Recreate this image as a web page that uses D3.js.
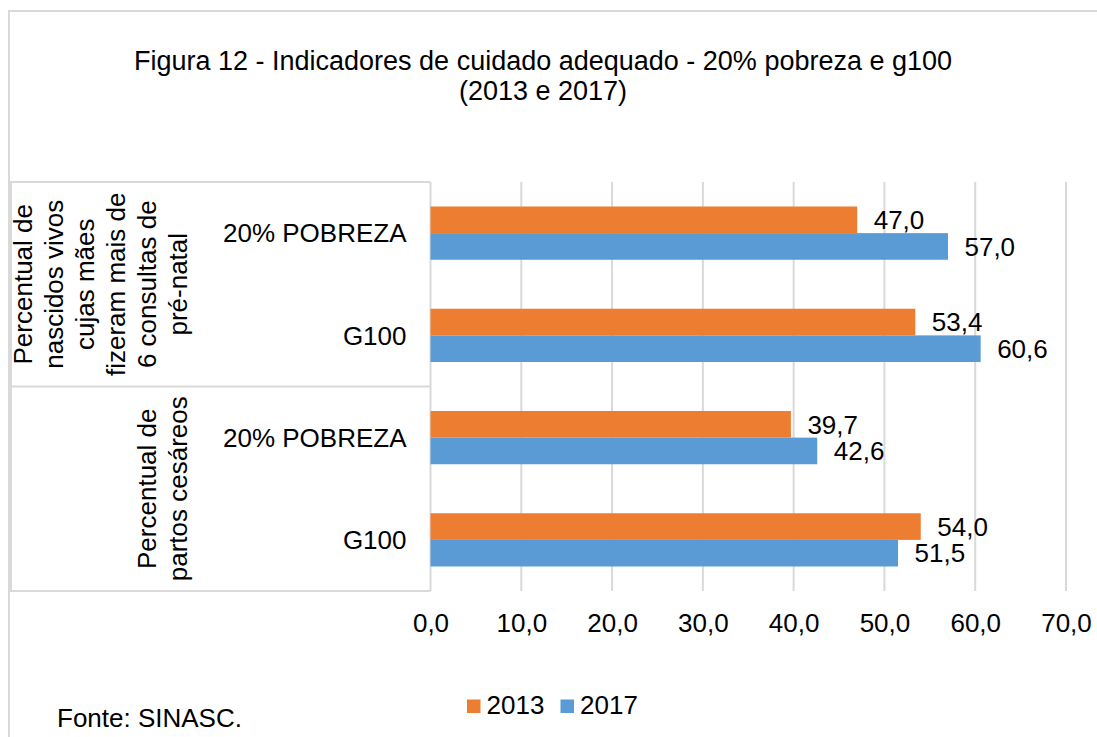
<!DOCTYPE html>
<html>
<head>
<meta charset="utf-8">
<script src="https://cdn.jsdelivr.net/npm/d3@7"></script>
<style>
  body { margin: 0; background: #fff; }
  svg { display: block; font-family: "Liberation Sans", Arial, sans-serif; }
</style>
</head>
<body>
<div id="chart"></div>
<script>
// DATA
const groupLabels = [
  ["Percentual de", "nascidos vivos", "cujas mães", "fizeram mais de", "6 consultas de", "pré-natal"],
  ["Percentual de", "partos cesáreos"]
];
const categories = ["20% POBREZA", "G100", "20% POBREZA", "G100"];
const categoryGroup = [0, 0, 1, 1];
const years = ["2013", "2017"];
const values2013 = [47.0, 53.4, 39.7, 54.0];
const values2017 = [57.0, 60.6, 42.6, 51.5];
const tickValues = [0, 10, 20, 30, 40, 50, 60, 70];

const width = 1097;
const height = 737;
const fs = 26;
const gridColor = "#d9d9d9";
const colors = { "2013": "#ED7D31", "2017": "#5B9BD5" };

const br = d3.formatLocale({ decimal: ",", thousands: ".", grouping: [3], currency: ["R$", ""] });
const fmt = br.format(".1f");

const svg = d3.select("#chart")
  .append("svg")
  .attr("width", width)
  .attr("height", height);

// OUTER BORDER
svg.append("path")
  .attr("d", `M9,${height + 5}V11H${width + 5}`)
  .attr("fill", "none")
  .attr("stroke", gridColor)
  .attr("stroke-width", 2);

// TITLE
const title = svg.append("text")
  .attr("text-anchor", "middle")
  .attr("font-size", 27)
  .attr("fill", "#000");
title.append("tspan").attr("x", 543).attr("y", 70)
  .text("Figura 12 - Indicadores de cuidado adequado - 20% pobreza e g100");
title.append("tspan").attr("x", 543).attr("y", 100)
  .text("(2013 e 2017)");

// SCALES
const rows = d3.range(categories.length);
const x = d3.scaleLinear().domain([0, 70]).range([430.5, 1066]);
const y0 = d3.scaleBand().domain(rows).range([182, 591]);
const y1 = d3.scaleBand().domain(years).range([0, y0.bandwidth()]).paddingOuter(0.92);

// GRID
svg.append("g")
  .selectAll("line")
  .data(tickValues.filter(d => d > 0))
  .enter()
  .append("line")
  .attr("x1", d => x(d))
  .attr("x2", d => x(d))
  .attr("y1", y0.range()[0])
  .attr("y2", y0.range()[1])
  .attr("stroke", gridColor)
  .attr("stroke-width", 2);

// CATEGORY AXIS FRAME (multi-level)
const frame = svg.append("g").attr("stroke", gridColor).attr("stroke-width", 2).attr("fill", "none");
const groupBounds = groupLabels.map((g, i) => {
  const r = rows.filter(k => categoryGroup[k] === i);
  return [y0(r[0]), y0(r[r.length - 1]) + y0.bandwidth()];
});
frame.append("line")
  .attr("x1", x(0)).attr("x2", x(0))
  .attr("y1", y0.range()[0]).attr("y2", y0.range()[1]);
frame.append("line")
  .attr("x1", 11).attr("x2", 11)
  .attr("y1", y0.range()[0]).attr("y2", y0.range()[1]);
frame.selectAll("line.sep")
  .data([groupBounds[0][0]].concat(groupBounds.map(d => d[1])))
  .enter()
  .append("line")
  .attr("class", "sep")
  .attr("x1", 10).attr("x2", x(0))
  .attr("y1", d => d).attr("y2", d => d);

// BARS
const series = years.map((yr, i) => ({
  year: yr,
  values: i === 0 ? values2013 : values2017
}));

const barG = svg.append("g");
series.forEach(s => {
  barG.selectAll(null)
    .data(s.values)
    .enter()
    .append("rect")
    .attr("x", x(0))
    .attr("y", (d, i) => y0(i) + y1(s.year))
    .attr("width", d => x(d) - x(0))
    .attr("height", y1.bandwidth())
    .attr("fill", colors[s.year]);

  barG.selectAll(null)
    .data(s.values)
    .enter()
    .append("text")
    .attr("x", d => x(d) + 16.5)
    .attr("y", (d, i) => y0(i) + y1(s.year) + y1.bandwidth() / 2 + fs * 0.358)
    .attr("font-size", fs)
    .attr("fill", "#000")
    .text(d => fmt(d));
});

// CATEGORY LABELS
svg.append("g")
  .selectAll("text")
  .data(rows)
  .enter()
  .append("text")
  .attr("x", 406.5)
  .attr("y", d => y0(d) + y0.bandwidth() / 2 + fs * 0.358)
  .attr("text-anchor", "end")
  .attr("font-size", fs)
  .attr("fill", "#000")
  .text(d => categories[d]);

// GROUP LABELS (rotated)
const lineH = 31;
const lastBaseline = 187;
groupLabels.forEach((lines, gi) => {
  const cy = (groupBounds[gi][0] + groupBounds[gi][1]) / 2;
  const t = svg.append("text")
    .attr("transform", `translate(${lastBaseline - (lines.length - 1) * lineH},${cy}) rotate(-90)`)
    .attr("text-anchor", "middle")
    .attr("font-size", fs)
    .attr("fill", "#000");
  lines.forEach((ln, i) => {
    t.append("tspan").attr("x", 0).attr("y", i * lineH).text(ln);
  });
});

// VALUE AXIS
const axis = svg.append("g")
  .attr("transform", `translate(0,${y0.range()[1]})`)
  .call(d3.axisBottom(x).tickValues(tickValues).tickSize(0).tickFormat(d => fmt(d)));
axis.select(".domain").remove();
axis.selectAll("text")
  .attr("y", 41)
  .attr("dy", 0)
  .attr("font-size", fs)
  .attr("font-family", "Liberation Sans, Arial, sans-serif")
  .attr("fill", "#000");

// LEGEND
const legend = svg.append("g").attr("transform", "translate(467,714)");
const legendX = { "2013": 0, "2017": 93.5 };
years.forEach(yr => {
  const item = legend.append("g").attr("transform", `translate(${legendX[yr]},0)`);
  item.append("rect")
    .attr("x", 0).attr("y", -14.5)
    .attr("width", 13.5).attr("height", 13.5)
    .attr("fill", colors[yr]);
  item.append("text")
    .attr("x", 19.5).attr("y", 0)
    .attr("font-size", fs)
    .attr("fill", "#000")
    .text(yr);
});

// SOURCE
svg.append("text")
  .attr("x", 57)
  .attr("y", 727)
  .attr("font-size", fs)
  .attr("fill", "#000")
  .text("Fonte: SINASC.");
</script>
</body>
</html>
